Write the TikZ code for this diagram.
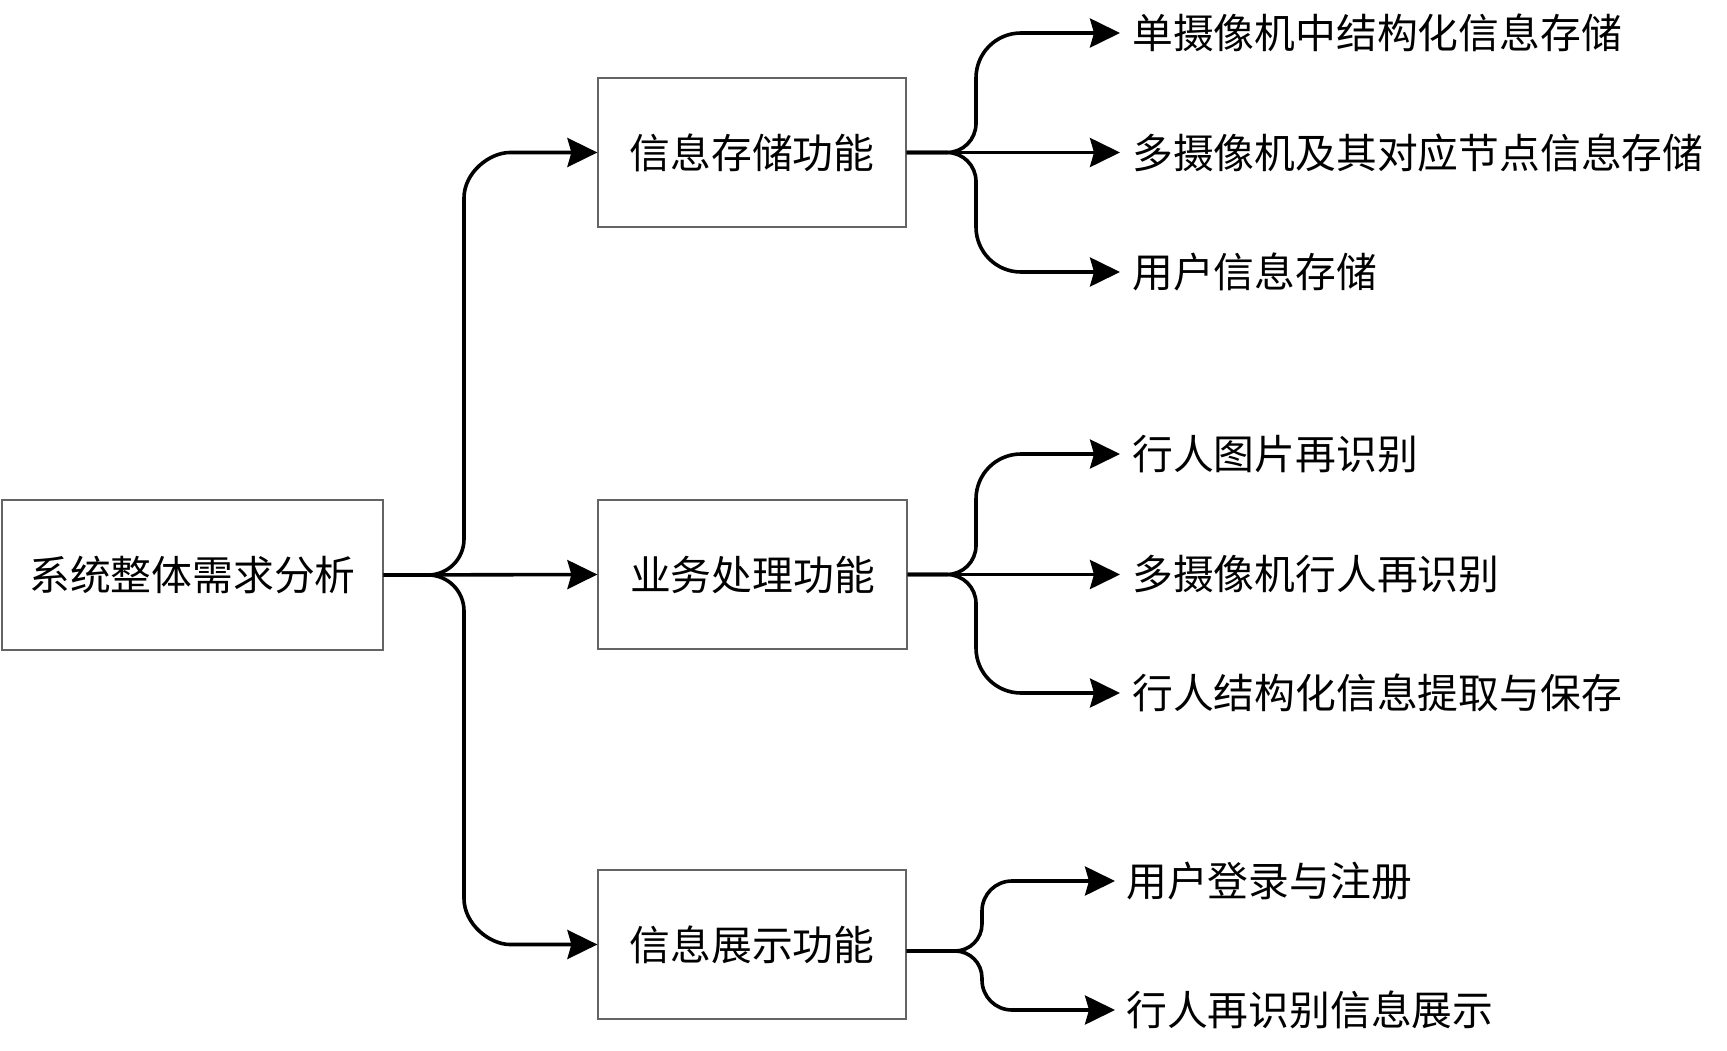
\documentclass[tikz,border=0pt]{standalone}
\usepackage{fontspec}
\newfontfamily\cjk{Noto Sans CJK SC}
\usetikzlibrary{arrows.meta}
\definecolor{boxline}{RGB}{100,100,100}
\tikzset{
  boxnode/.style={draw=boxline, line width=1.2pt, fill=white, inner sep=0pt,
    font=\cjk\fontsize{40.8}{48}\selectfont},
  leafnode/.style={anchor=west, inner ysep=0pt, inner xsep=0pt,
    font=\cjk\fontsize{40.8}{48}\selectfont},
  conn/.style={line width=3.6pt, line cap=butt, line join=round,
    -{Stealth[length=30pt,width=29pt,inset=4pt]}}
}
\begin{document}
\begin{tikzpicture}[x=1pt,y=-1pt]
\useasboundingbox[fill=white] (0,0) rectangle (1727,1051);

% boxes
\node[boxnode, minimum width=381pt, minimum height=150pt] (root) at (192.5,575) {系统整体需求分析};
\node[boxnode, minimum width=308pt, minimum height=149pt] (b1) at (752,152.5) {信息存储功能};
\node[boxnode, minimum width=309pt, minimum height=149pt] (b2) at (752.5,574.5) {业务处理功能};
\node[boxnode, minimum width=308pt, minimum height=149pt] (b3) at (752,944.5) {信息展示功能};

% leaves
\begin{scope}[every node/.style={leafnode}]
\node (l11) at (1120,33) {\hspace{12pt}单摄像机中结构化信息存储};
\node (l12) at (1120,152.5) {\hspace{12pt}多摄像机及其对应节点信息存储};
\node (l13) at (1120,272) {\hspace{12pt}用户信息存储};
\node (l21) at (1120,454) {\hspace{12pt}行人图片再识别};
\node (l22) at (1120,574.5) {\hspace{12pt}多摄像机行人再识别};
\node (l23) at (1120,693) {\hspace{12pt}行人结构化信息提取与保存};
\node (l31) at (1115,881) {\hspace{11pt}用户登录与注册};
\node (l32) at (1115,1010) {\hspace{11pt}行人再识别信息展示};
\end{scope}

% root connectors
\draw[conn] (root.east) -- (428,575) .. controls (447.9,575) and (464,558.9) .. (464,539)
  -- (464,198) .. controls (464,172.6) and (489.4,152.5) .. (510,152.5) -- (b1.west);
\draw[conn] (root.east) -- (b2.west);
\draw[conn] (root.east) -- (428,575) .. controls (447.9,575) and (464,591.1) .. (464,611)
  -- (464,898.5) .. controls (464,923.9) and (489.4,944.5) .. (510,944.5) -- (b3.west);

% group 1
\draw[conn] (b1.east) -- (947,152.5) .. controls (963,152.5) and (976,139.5) .. (976,123.5)
  -- (976,78) .. controls (976,53.1) and (996.1,33) .. (1021,33) -- (l11.west);
\draw[conn] (b1.east) -- (l12.west);
\draw[conn] (b1.east) -- (947,152.5) .. controls (963,152.5) and (976,165.5) .. (976,181.5)
  -- (976,227) .. controls (976,251.9) and (996.1,272) .. (1021,272) -- (l13.west);

% group 2
\draw[conn] (b2.east) -- (947,574.5) .. controls (963,574.5) and (976,561.5) .. (976,545.5)
  -- (976,499) .. controls (976,474.1) and (996.1,454) .. (1021,454) -- (l21.west);
\draw[conn] (b2.east) -- (l22.west);
\draw[conn] (b2.east) -- (947,574.5) .. controls (963,574.5) and (976,587.5) .. (976,603.5)
  -- (976,648) .. controls (976,672.9) and (996.1,693) .. (1021,693) -- (l23.west);

% group 3
\draw[conn] ([yshift=-6.5pt]b3.east) -- (955,951) .. controls (969.9,951) and (982,938.9) .. (982,924)
  -- (982,911) .. controls (982,894.4) and (995.4,881) .. (1012,881) -- (l31.west);
\draw[conn] ([yshift=-6.5pt]b3.east) -- (955,951) .. controls (969.9,951) and (982,963.1) .. (982,978)
  -- (982,980) .. controls (982,996.6) and (995.4,1010) .. (1012,1010) -- (l32.west);
\end{tikzpicture}
\end{document}
